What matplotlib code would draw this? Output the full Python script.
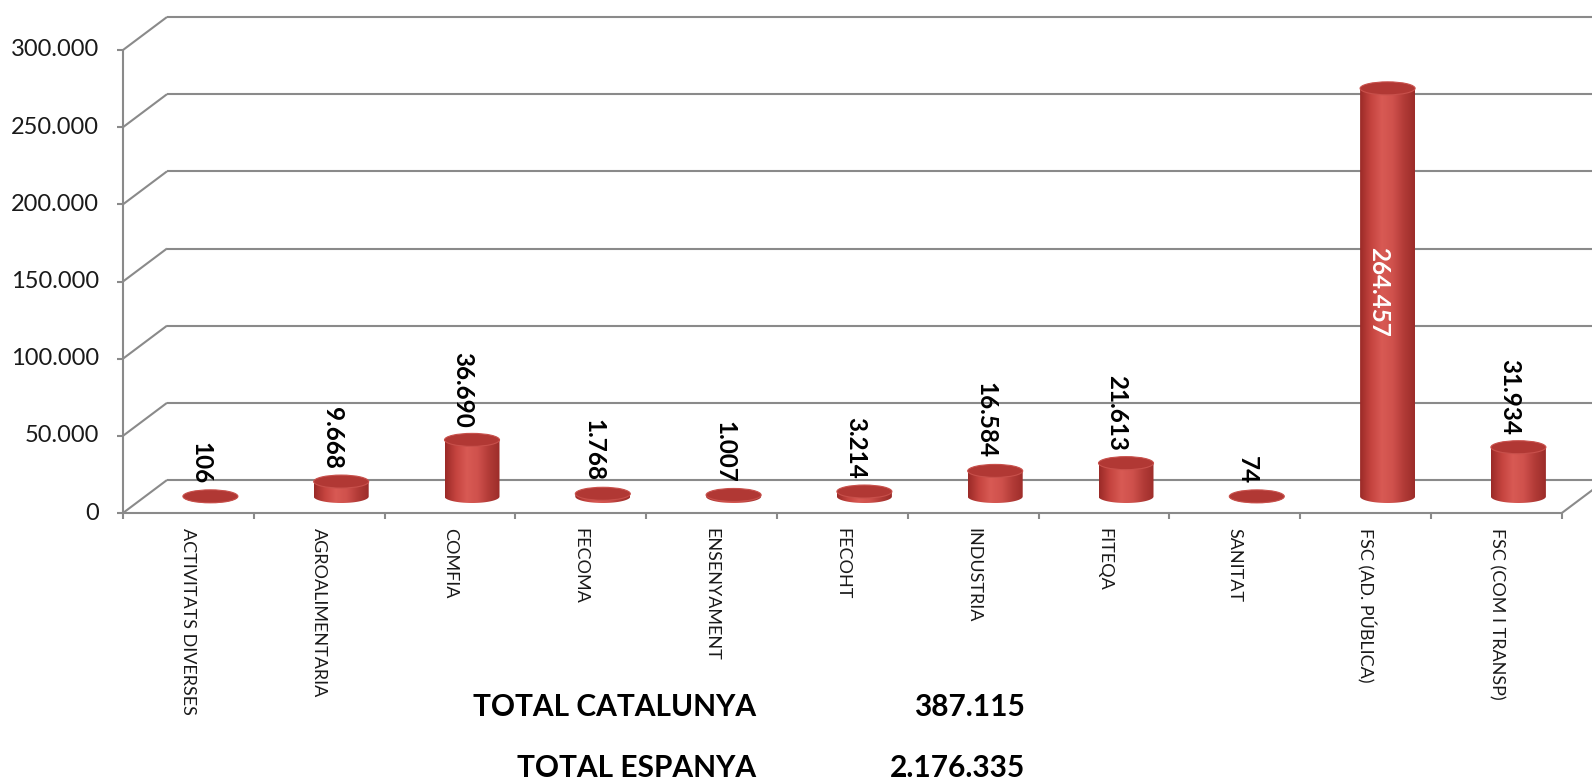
import numpy as np
import matplotlib
matplotlib.use("Agg")
import matplotlib.pyplot as plt
from matplotlib.patches import Ellipse, PathPatch
from matplotlib.path import Path
from matplotlib.colors import LinearSegmentedColormap

plt.rcParams['font.family'] = ['Lato', 'DejaVu Sans']

categories = ["ACTIVITATS DIVERSES", "AGROALIMENTARIA", "COMFIA", "FECOMA", "ENSENYAMENT",
              "FECOHT", "INDUSTRIA", "FITEQA", "SANITAT", "FSC (AD. PÚBLICA)", "FSC (COM I TRANSP)"]
values = [106, 9668, 36690, 1768, 1007, 3214, 16584, 21613, 74, 264457, 31934]
value_labels = ["106", "9.668", "36.690", "1.768", "1.007", "3.214", "16.584", "21.613", "74", "264.457", "31.934"]
yticks = [0, 50000, 100000, 150000, 200000, 250000, 300000]
ytick_labels = ["0", "50.000", "100.000", "150.000", "200.000", "250.000", "300.000"]
totals = [("TOTAL CATALUNYA", "387.115"), ("TOTAL ESPANYA", "2.176.335")]

W, H = 1592, 782
fig = plt.figure(figsize=(W / 100, H / 100), dpi=100)
ax = fig.add_axes([0, 0, 1, 1])

# pixel layout of the front plane
x0_px, cat_px = 123, 130.8
y0_px, top_px = 513, 50
vpp = yticks[-1] / (y0_px - top_px)       # value units per pixel
cpp = 1 / cat_px                           # category units per pixel
dx, dy = 44 * cpp, 33 * vpp                # depth offset

xlim = (-x0_px * cpp, (W - x0_px) * cpp)
ylim = (-(H - y0_px) * vpp, y0_px * vpp)

grid_kw = dict(color="#8a8a8a", lw=1.5, zorder=1, solid_capstyle="butt")
n = len(categories)

# walls and gridlines
for t in yticks:
    ax.plot([0, dx], [t, t + dy], **grid_kw)
    if t == 0:
        ax.plot([dx, n + dx], [dy, dy], **grid_kw)
        ax.plot([0, n], [0, 0], **grid_kw)
        ax.plot([n, n + dx], [0, dy], **grid_kw)
    else:
        ax.plot([dx, xlim[1]], [t + dy, t + dy], **grid_kw)
    ax.plot([-6 * cpp, 0], [t, t], **grid_kw)
ax.plot([0, 0], [0, yticks[-1]], **grid_kw)
for i in range(n + 1):
    ax.plot([i, i], [0, -6 * vpp], **grid_kw)

for t, lab in zip(yticks, ytick_labels):
    ax.text(-24 * cpp, t, lab, ha="right", va="center", fontsize=17, color="#1a1a1a")

for i, c in enumerate(categories):
    ax.text(i + 0.5, -15 * vpp, c, rotation=270, ha="center", va="top", fontsize=13, color="#1a1a1a")

# cylinders
cmap = LinearSegmentedColormap.from_list("cyl", ["#9a2a27", "#c5443f", "#d85a54", "#cf514c", "#b23b37", "#9c2c29"])
grad = np.linspace(0, 1, 256).reshape(1, -1)
bw = 55 * cpp
eh = 13 * vpp
base = dy / 2
theta = np.linspace(np.pi, 2 * np.pi, 60)
for i, (v, lab) in enumerate(zip(values, value_labels)):
    cx = i + 0.5 + dx / 2
    top = base + v
    xs = np.concatenate([[cx - bw / 2], cx + bw / 2 * np.cos(theta), [cx + bw / 2]])
    ys = np.concatenate([[top], base + eh / 2 * np.sin(theta), [top]])
    verts = list(zip(xs, ys)) + [(cx - bw / 2, top)]
    body = PathPatch(Path(verts, closed=True), facecolor="none", edgecolor="none")
    ax.add_patch(body)
    im = ax.imshow(grad, cmap=cmap, aspect="auto", zorder=3,
                   extent=[cx - bw / 2, cx + bw / 2, base - eh / 2, top])
    im.set_clip_path(body)
    ax.add_patch(Ellipse((cx, top), bw, eh, facecolor="#b13834", edgecolor="#c8504b", lw=0.8, zorder=4))
    if v == max(values):
        ax.text(cx - 0.07, base + v / 2, lab, rotation=270, ha="center", va="center",
                fontsize=17.5, fontweight="bold", color="white", zorder=5)
    else:
        ax.text(cx - 0.07, top + eh / 2 + 6 * vpp, lab, rotation=270, ha="center", va="bottom",
                fontsize=17.5, fontweight="bold", color="black", zorder=5)

ax.set_xlim(*xlim)
ax.set_ylim(*ylim)
ax.axis("off")

for k, (name, val) in enumerate(totals):
    yc = 1 - (707 + 61 * k) / H
    fig.text(756 / W, yc, name, ha="right", va="center", fontsize=21.5, fontweight="bold")
    fig.text(1025 / W, yc, val, ha="right", va="center", fontsize=21.5, fontweight="bold")

fig.savefig("out.png", dpi=100, facecolor="white")
